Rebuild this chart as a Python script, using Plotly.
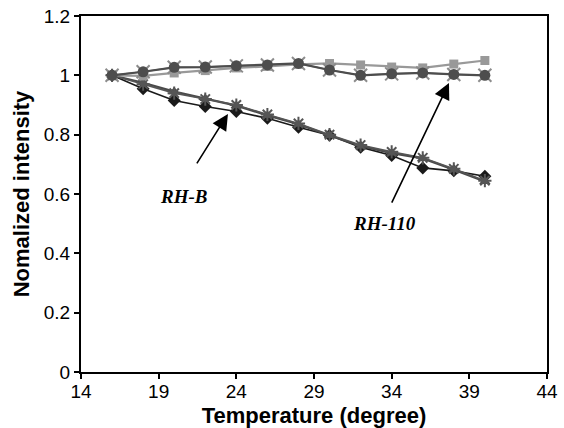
import plotly.graph_objects as go

temps = [16, 18, 20, 22, 24, 26, 28, 30, 32, 34, 36, 38, 40]
# upper group (RH-110)
sq_vals = [1.0, 0.998, 1.008, 1.016, 1.025, 1.030, 1.037, 1.040, 1.035, 1.028, 1.025, 1.038, 1.050]
x_vals = [1.0, 1.012, 1.027, 1.028, 1.032, 1.035, 1.040, 1.018, 1.000, 1.005, 1.008, 1.003, 1.000]
circ_vals = [1.0, 1.012, 1.027, 1.028, 1.032, 1.035, 1.040, 1.018, 1.000, 1.005, 1.008, 1.003, 1.000]
# lower group (RH-B)
dia_vals = [1.0, 0.955, 0.915, 0.895, 0.878, 0.855, 0.825, 0.798, 0.758, 0.730, 0.688, 0.678, 0.660]
tri_vals = [1.0, 0.975, 0.945, 0.922, 0.898, 0.865, 0.835, 0.797, 0.762, 0.738, 0.720, 0.682, 0.642]
star_vals = [1.0, 0.970, 0.940, 0.920, 0.900, 0.868, 0.838, 0.800, 0.765, 0.742, 0.722, 0.685, 0.645]

x_ticks = [14, 19, 24, 29, 34, 39, 44]
y_ticks = [0, 0.2, 0.4, 0.6, 0.8, 1, 1.2]
y_tick_text = ["0", "0.2", "0.4", "0.6", "0.8", "1", "1.2"]

fig = go.Figure()

def add(vals, color, symbol, size, lw, mline=None):
    marker = dict(symbol=symbol, size=size, color=color)
    if mline:
        marker["line"] = mline
    fig.add_trace(go.Scatter(x=temps, y=vals, mode="lines+markers",
                             line=dict(color=color, width=lw), marker=marker,
                             showlegend=False))

add(dia_vals, "#1a1a1a", "diamond", 10, 1.6)
add(tri_vals, "#4a4a4a", "triangle-up", 10, 2.2)
add(star_vals, "#555555", "asterisk-open", 11, 1.6, dict(color="#555555", width=2))
add(sq_vals, "#999999", "square", 9, 2.2)
add(x_vals, "#8c8c8c", "x-thin-open", 13, 1.5, dict(color="#8c8c8c", width=2))
add(circ_vals, "#4d4d4d", "circle", 11, 2.2)

font_txt = dict(family="Liberation Serif, Times New Roman, serif", size=19, color="black")
fig.add_annotation(x=20.57, y=0.593, xref="x", yref="y", text="<b><i>RH-B</i></b>",
                   showarrow=False, font=font_txt)
fig.add_annotation(x=33.57, y=0.502, xref="x", yref="y", text="<b><i>RH-110</i></b>",
                   showarrow=False, font=font_txt)
fig.add_annotation(x=23.46, y=0.870, ax=21.40, ay=0.698, xref="x", yref="y",
                   axref="x", ayref="y", text="", showarrow=True,
                   arrowhead=2, arrowsize=2, arrowwidth=1.6, arrowcolor="black")
fig.add_annotation(x=37.69, y=0.974, ax=33.96, ay=0.566, xref="x", yref="y",
                   axref="x", ayref="y", text="", showarrow=True,
                   arrowhead=2, arrowsize=2, arrowwidth=1.6, arrowcolor="black")

axis_font = dict(family="Liberation Sans, Arial, sans-serif", size=19, color="black")
title_font = dict(family="Liberation Sans, Arial, sans-serif", size=22, color="black")

fig.update_xaxes(range=[14, 44], tickvals=x_ticks, ticks="outside", ticklen=5,
                 tickwidth=1.5, tickcolor="black", showgrid=False, zeroline=False,
                 showline=True, linecolor="black", linewidth=2, mirror=True,
                 tickfont=axis_font, automargin=False, ticklabelstandoff=-4,
                 title=dict(text="<b>Temperature (degree)</b>", font=title_font, standoff=7))
fig.update_yaxes(range=[0, 1.2], tickvals=y_ticks, ticktext=y_tick_text, ticks="outside",
                 ticklen=5, tickwidth=1.5, tickcolor="black", showgrid=False,
                 zeroline=False, showline=True, linecolor="black", linewidth=2,
                 mirror=True, tickfont=axis_font, automargin=False,
                 title=dict(text="<b>Nomalized intensity</b>", font=title_font, standoff=8))

fig.update_layout(width=564, height=428, margin=dict(l=81, r=17, t=16, b=56),
                  plot_bgcolor="white", paper_bgcolor="white")

fig.write_html("out.html")
